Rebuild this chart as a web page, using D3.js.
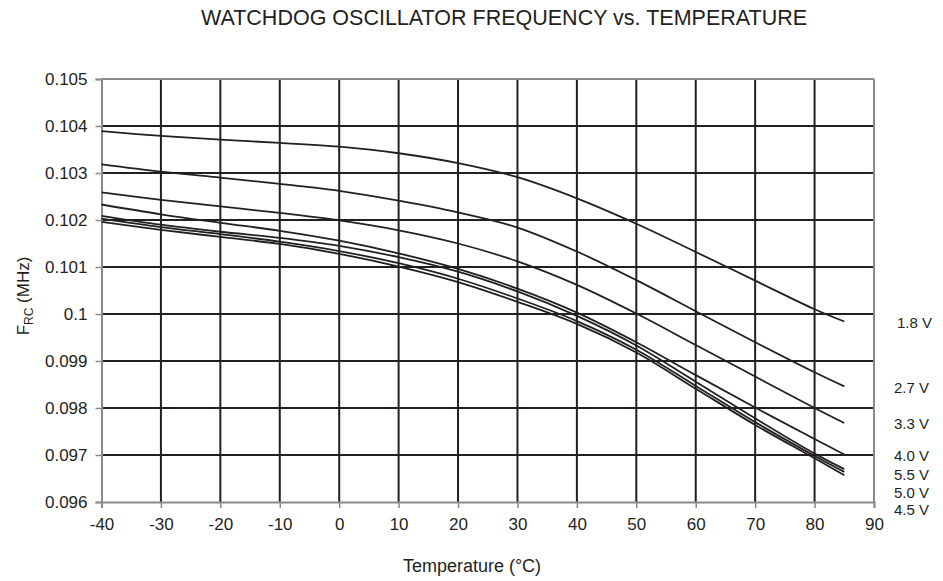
<!DOCTYPE html>
<html>
<head>
<meta charset="utf-8">
<script src="https://cdn.jsdelivr.net/npm/d3@7"></script>
<style>
  html, body { margin: 0; padding: 0; background: #fff; }
  svg { display: block; font-family: "Liberation Sans", Arial, Helvetica, sans-serif; }
</style>
</head>
<body>
<svg id="chart" width="943" height="581"></svg>
<script>
// ---------- data ----------
const temperatures = [-40, -30, -20, -10, 0, 10, 20, 30, 40, 50, 60, 70, 80, 85];
const seriesNames = ["1.8 V", "2.7 V", "3.3 V", "4.0 V", "5.5 V", "5.0 V", "4.5 V"];
const v18 = [0.10389, 0.10379, 0.10371, 0.10364, 0.10356, 0.10342, 0.10321, 0.10291, 0.10246, 0.10192, 0.10132, 0.10071, 0.10010, 0.09984];
const v27 = [0.103185, 0.10303, 0.10290, 0.10277, 0.10262, 0.10241, 0.10216, 0.10184, 0.10133, 0.10072, 0.10006, 0.09940, 0.09876, 0.09846];
const v33 = [0.10259, 0.10243, 0.10229, 0.10215, 0.10199, 0.10178, 0.10150, 0.10112, 0.10062, 0.10001, 0.09934, 0.09867, 0.09800, 0.09768];
const v40 = [0.10233, 0.10212, 0.10194, 0.10177, 0.10156, 0.10129, 0.10096, 0.10054, 0.10003, 0.09940, 0.09870, 0.09801, 0.09734, 0.09701];
const v55 = [0.10209, 0.10190, 0.10175, 0.10162, 0.10145, 0.10121, 0.10090, 0.10048, 0.09996, 0.09933, 0.09856, 0.09778, 0.09703, 0.09670];
const v50 = [0.10203, 0.10185, 0.10170, 0.10154, 0.10134, 0.10108, 0.10075, 0.10033, 0.09985, 0.09924, 0.09847, 0.09770, 0.09698, 0.09664];
const v45 = [0.10196, 0.10179, 0.10164, 0.10149, 0.10128, 0.10101, 0.10068, 0.10026, 0.09979, 0.09918, 0.09841, 0.09764, 0.09693, 0.09657];
const seriesValues = [v18, v27, v33, v40, v55, v50, v45];

const xTicks = [-40, -30, -20, -10, 0, 10, 20, 30, 40, 50, 60, 70, 80, 90];
const xTickLabels = ["-40", "-30", "-20", "-10", "0", "10", "20", "30", "40", "50", "60", "70", "80", "90"];
const yTicks = [0.096, 0.097, 0.098, 0.099, 0.1, 0.101, 0.102, 0.103, 0.104, 0.105];
const yTickLabels = ["0.096", "0.097", "0.098", "0.099", "0.1", "0.101", "0.102", "0.103", "0.104", "0.105"];

const titleText = "WATCHDOG OSCILLATOR FREQUENCY vs. TEMPERATURE";
const xTitle = "Temperature (°C)";

// ---------- layout ----------
const svg = d3.select("#chart");
const ink = "#231f20";
const frame = "#8a8a8a";
const plot = { left: 101.5, right: 874, top: 79, bottom: 502 };

const x = d3.scaleLinear().domain([-40, 90]).range([plot.left, plot.right]);
const y = d3.scaleLinear().domain([0.096, 0.105]).range([plot.bottom, plot.top]);

// grid
const grid = svg.append("g");
grid.selectAll("line.vg").data(xTicks.slice(1, -1)).enter().append("line")
  .attr("x1", d => x(d)).attr("x2", d => x(d))
  .attr("y1", plot.top).attr("y2", plot.bottom)
  .attr("stroke", ink).attr("stroke-width", 2);
grid.selectAll("line.hg").data(yTicks.slice(1, -1)).enter().append("line")
  .attr("x1", plot.left).attr("x2", plot.right)
  .attr("y1", d => y(d)).attr("y2", d => y(d))
  .attr("stroke", ink).attr("stroke-width", 2);

// frame top/right
svg.append("line").attr("x1", plot.left).attr("x2", plot.right).attr("y1", plot.top).attr("y2", plot.top)
  .attr("stroke", frame).attr("stroke-width", 2);
svg.append("line").attr("x1", plot.right).attr("x2", plot.right).attr("y1", plot.top).attr("y2", plot.bottom)
  .attr("stroke", frame).attr("stroke-width", 2);

// axes
const xAxis = d3.axisBottom(x).tickValues(xTicks).tickSize(6).tickPadding(10)
  .tickFormat((d, i) => xTickLabels[i]);
const yAxis = d3.axisLeft(y).tickValues(yTicks).tickSize(6).tickPadding(8)
  .tickFormat((d, i) => yTickLabels[i]);

const gx = svg.append("g").attr("transform", `translate(0,${plot.bottom})`).call(xAxis);
const gy = svg.append("g").attr("transform", `translate(${plot.left},0)`).call(yAxis);
[gx, gy].forEach(g => {
  g.select(".domain").attr("stroke", frame).attr("stroke-width", 2);
  g.selectAll(".tick line").attr("stroke", frame).attr("stroke-width", 1.5);
  g.selectAll(".tick text").attr("fill", ink).style("font-size", "17px")
    .style("font-family", '"Liberation Sans", Arial, sans-serif');
});

// series
const line = d3.line()
  .x((d, i) => x(temperatures[i]))
  .y(d => y(d))
  .curve(d3.curveCatmullRom.alpha(0.5));

svg.append("g").selectAll("path").data(seriesValues).enter().append("path")
  .attr("d", d => line(d))
  .attr("fill", "none")
  .attr("stroke", ink)
  .attr("stroke-width", 1.8);

// right-hand labels
const ends = seriesValues.map(s => s[s.length - 1]);
const labelY = ends.map(v => y(v) + 1);
// last group of near-identical end values: stack upward from axis bottom
const lastEnd = ends[ends.length - 1];
const groupIdx = ends.map((v, i) => i).filter(i => Math.abs(ends[i] - lastEnd) < 0.0002);
groupIdx.slice().reverse().forEach((idx, k) => { labelY[idx] = plot.bottom + 8 - k * 17.4; });

svg.append("g").selectAll("text").data(seriesNames).enter().append("text")
  .attr("x", (d, i) => i === 0 ? 897 : 894)
  .attr("y", (d, i) => labelY[i])
  .attr("dy", "0.35em")
  .attr("fill", ink)
  .style("font-size", "15px")
  .text(d => d);

// title
svg.append("text").attr("x", 504).attr("y", 25).attr("text-anchor", "middle")
  .attr("fill", ink).style("font-size", "21.5px").text(titleText);

// x title
svg.append("text").attr("x", 472).attr("y", 572).attr("text-anchor", "middle")
  .attr("fill", ink).style("font-size", "18px").text(xTitle);

// y title
const yt = svg.append("text").attr("transform", "translate(29,296) rotate(-90)")
  .attr("text-anchor", "middle").attr("fill", ink).style("font-size", "17px");
yt.append("tspan").text("F");
yt.append("tspan").attr("dy", 4).style("font-size", "12px").text("RC");
yt.append("tspan").attr("dy", -4).text(" (MHz)");
</script>
</body>
</html>
